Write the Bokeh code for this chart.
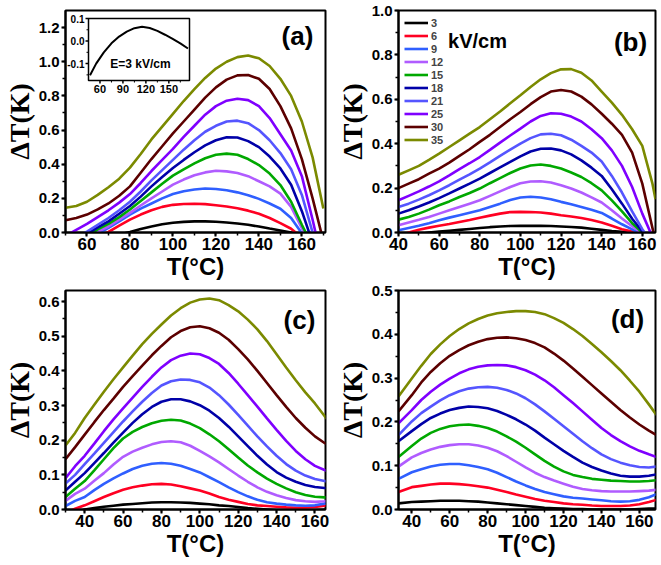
from bokeh.plotting import figure
from bokeh.models import (Range1d, SingleIntervalTicker, PrintfTickFormatter, Label,
                          Legend, LegendItem, GridBox)
from bokeh.core.properties import value
from bokeh.embed import file_html
from bokeh.resources import INLINE

# ---------------- data ----------------
fields = ["3", "6", "9", "12", "15", "18", "21", "25", "30", "35"]
colors = ["#000000", "#FF0022", "#2F5FFF", "#B05CFF", "#00A800",
          "#0000A8", "#5555FF", "#7F00FF", "#5C0000", "#7B8A00"]

# panel (a)
T_a = [50, 55, 60, 65, 70, 75, 80, 85, 90, 95, 100, 105, 110, 115, 120, 125, 130, 135, 140, 145, 150, 155, 160, 165, 170]
a_3 = [-0.17, -0.13, -0.09, -0.055, -0.03, -0.012, 0.003, 0.02, 0.035, 0.048, 0.057, 0.062, 0.065, 0.065, 0.063, 0.059, 0.053, 0.045, 0.035, 0.023, 0.012, 0.0, -0.015, -0.035, -0.06]
a_6 = [-0.12, -0.09, -0.06, -0.03, 0.003, 0.04, 0.075, 0.105, 0.13, 0.15, 0.162, 0.167, 0.168, 0.166, 0.16, 0.152, 0.142, 0.128, 0.11, 0.085, 0.055, 0.022, -0.03, -0.08, -0.12]
a_9 = [-0.11, -0.075, -0.04, -0.008, 0.027, 0.065, 0.105, 0.14, 0.17, 0.2, 0.225, 0.242, 0.252, 0.258, 0.255, 0.247, 0.235, 0.218, 0.197, 0.17, 0.139, 0.085, -0.005, -0.09, -0.17]
a_12 = [-0.1, -0.065, -0.03, 0.004, 0.035, 0.075, 0.115, 0.158, 0.2, 0.24, 0.28, 0.31, 0.335, 0.352, 0.362, 0.358, 0.348, 0.33, 0.3, 0.27, 0.228, 0.15, 0.025, -0.08, -0.2]
a_15 = [-0.09, -0.055, -0.02, 0.018, 0.05, 0.09, 0.135, 0.185, 0.235, 0.285, 0.333, 0.37, 0.405, 0.435, 0.455, 0.462, 0.455, 0.43, 0.395, 0.345, 0.278, 0.18, 0.045, -0.08, -0.2]
a_18 = [-0.08, -0.045, -0.008, 0.03, 0.065, 0.11, 0.155, 0.21, 0.27, 0.325, 0.378, 0.425, 0.47, 0.51, 0.54, 0.558, 0.556, 0.535, 0.5, 0.445, 0.375, 0.28, 0.125, -0.06, -0.2]
a_21 = [-0.06, -0.03, 0.005, 0.045, 0.085, 0.13, 0.18, 0.24, 0.305, 0.365, 0.425, 0.485, 0.54, 0.59, 0.625, 0.65, 0.655, 0.64, 0.6, 0.54, 0.465, 0.37, 0.22, 0.0, -0.2]
a_25 = [-0.02, 0.015, 0.05, 0.09, 0.13, 0.175, 0.225, 0.29, 0.36, 0.425, 0.49, 0.56, 0.625, 0.69, 0.74, 0.772, 0.783, 0.775, 0.74, 0.67, 0.575, 0.48, 0.33, 0.075, -0.2]
a_30 = [0.072, 0.085, 0.105, 0.135, 0.17, 0.215, 0.27, 0.35, 0.43, 0.505, 0.58, 0.65, 0.72, 0.79, 0.85, 0.895, 0.92, 0.922, 0.9, 0.84, 0.74, 0.61, 0.43, 0.2, -0.05]
a_35 = [0.145, 0.155, 0.18, 0.22, 0.265, 0.315, 0.38, 0.46, 0.545, 0.62, 0.695, 0.77, 0.84, 0.905, 0.96, 1.0, 1.027, 1.036, 1.02, 0.975, 0.9, 0.8, 0.65, 0.44, 0.14]

# inset of panel (a): E = 3 kV/cm
T_in = [47, 55, 65, 75, 85, 95, 105, 115, 125, 135, 145, 155, 165, 175]
dT_in = [-0.152, -0.1, -0.05, -0.01, 0.02, 0.042, 0.057, 0.063, 0.058, 0.045, 0.028, 0.01, -0.01, -0.033]
in_xr = (45, 177)
in_yr = (-0.175, 0.1)
in_xticks = [60, 90, 120, 150]
in_xminor = [75, 105, 135, 165]
in_yticks = [-0.1, 0.0, 0.1]
in_yminor = [-0.15, -0.05, 0.05]

# panel (b)
T_b = [40, 45, 50, 55, 60, 65, 70, 75, 80, 85, 90, 95, 100, 105, 110, 115, 120, 125, 130, 135, 140, 145, 150, 155, 160, 165, 166.5]
b_3 = [-0.03, -0.02, -0.008, 0.0, 0.004, 0.008, 0.012, 0.016, 0.02, 0.024, 0.027, 0.029, 0.03, 0.03, 0.03, 0.029, 0.027, 0.025, 0.022, 0.017, 0.012, 0.007, 0.003, -0.002, -0.008, -0.012, -0.015]
b_6 = [-0.02, 0.0, 0.012, 0.022, 0.03, 0.038, 0.047, 0.056, 0.066, 0.076, 0.085, 0.092, 0.093, 0.092, 0.09, 0.085, 0.078, 0.072, 0.065, 0.056, 0.045, 0.03, 0.015, 0.004, -0.008, -0.015, -0.02]
b_9 = [0.01, 0.02, 0.03, 0.042, 0.055, 0.067, 0.078, 0.089, 0.1, 0.115, 0.13, 0.146, 0.158, 0.161, 0.158, 0.15, 0.138, 0.127, 0.115, 0.102, 0.088, 0.063, 0.037, 0.014, -0.01, -0.025, -0.03]
b_12 = [0.033, 0.045, 0.057, 0.07, 0.085, 0.1, 0.115, 0.13, 0.145, 0.165, 0.185, 0.205, 0.222, 0.23, 0.231, 0.225, 0.213, 0.198, 0.18, 0.158, 0.135, 0.1, 0.063, 0.028, -0.005, -0.025, -0.03]
b_15 = [0.058, 0.07, 0.085, 0.103, 0.123, 0.14, 0.16, 0.178, 0.198, 0.222, 0.245, 0.268, 0.288, 0.302, 0.306, 0.3, 0.288, 0.27, 0.25, 0.222, 0.19, 0.145, 0.095, 0.042, 0.0, -0.03, -0.04]
b_18 = [0.085, 0.1, 0.117, 0.135, 0.155, 0.176, 0.198, 0.22, 0.243, 0.268, 0.293, 0.318, 0.343, 0.365, 0.377, 0.378, 0.37, 0.352, 0.325, 0.292, 0.255, 0.195, 0.13, 0.062, 0.005, -0.04, -0.05]
b_21 = [0.115, 0.13, 0.148, 0.168, 0.19, 0.213, 0.238, 0.262, 0.288, 0.316, 0.345, 0.373, 0.4, 0.425, 0.442, 0.445, 0.438, 0.418, 0.39, 0.36, 0.32, 0.255, 0.18, 0.095, 0.015, -0.05, -0.06]
b_25 = [0.145, 0.165, 0.185, 0.207, 0.23, 0.257, 0.285, 0.312, 0.34, 0.372, 0.405, 0.437, 0.468, 0.5, 0.525, 0.537, 0.535, 0.522, 0.5, 0.465, 0.425, 0.37, 0.3, 0.205, 0.085, -0.02, -0.06]
b_30 = [0.2, 0.22, 0.24, 0.265, 0.288, 0.315, 0.345, 0.375, 0.408, 0.44, 0.475, 0.51, 0.543, 0.578, 0.61, 0.635, 0.642, 0.635, 0.612, 0.577, 0.535, 0.49, 0.44, 0.36, 0.22, 0.02, -0.04]
b_35 = [0.26, 0.28, 0.30, 0.327, 0.355, 0.385, 0.415, 0.445, 0.475, 0.51, 0.545, 0.582, 0.618, 0.655, 0.69, 0.718, 0.735, 0.736, 0.72, 0.685, 0.635, 0.585, 0.53, 0.465, 0.39, 0.22, 0.15]

# panel (c)
T_c = [30, 35, 40, 45, 50, 55, 60, 65, 70, 75, 80, 85, 90, 95, 100, 105, 110, 115, 120, 125, 130, 135, 140, 145, 150, 155, 160, 165, 166]
c_3 = [-0.02, -0.01, 0.0, 0.004, 0.008, 0.011, 0.014, 0.016, 0.018, 0.02, 0.021, 0.021, 0.02, 0.019, 0.017, 0.015, 0.012, 0.01, 0.007, 0.004, 0.002, 0.0, -0.002, -0.003, -0.003, -0.003, -0.002, -0.001, -0.001]
c_6 = [-0.01, 0.002, 0.012, 0.024, 0.036, 0.047, 0.057, 0.064, 0.069, 0.073, 0.074, 0.072, 0.067, 0.061, 0.055, 0.046, 0.036, 0.028, 0.022, 0.016, 0.012, 0.01, 0.008, 0.006, 0.005, 0.005, 0.007, 0.011, 0.012]
c_9 = [0.01, 0.025, 0.036, 0.056, 0.074, 0.09, 0.104, 0.117, 0.126, 0.132, 0.134, 0.132, 0.126, 0.117, 0.107, 0.093, 0.079, 0.064, 0.05, 0.038, 0.028, 0.021, 0.017, 0.014, 0.012, 0.011, 0.012, 0.017, 0.018]
c_12 = [0.025, 0.045, 0.06, 0.083, 0.105, 0.13, 0.152, 0.167, 0.178, 0.188, 0.195, 0.197, 0.194, 0.184, 0.169, 0.153, 0.136, 0.117, 0.098, 0.08, 0.064, 0.051, 0.041, 0.033, 0.027, 0.024, 0.022, 0.024, 0.025]
c_15 = [0.036, 0.06, 0.082, 0.113, 0.145, 0.177, 0.205, 0.224, 0.238, 0.249, 0.256, 0.259, 0.257, 0.248, 0.235, 0.217, 0.197, 0.174, 0.15, 0.127, 0.107, 0.089, 0.074, 0.061, 0.05, 0.042, 0.037, 0.035, 0.035]
c_18 = [0.055, 0.08, 0.105, 0.134, 0.163, 0.193, 0.222, 0.25, 0.275, 0.296, 0.311, 0.318, 0.318, 0.312, 0.301, 0.285, 0.264, 0.239, 0.211, 0.183, 0.155, 0.13, 0.108, 0.092, 0.08, 0.071, 0.065, 0.062, 0.062]
c_21 = [0.075, 0.1, 0.131, 0.161, 0.192, 0.223, 0.254, 0.283, 0.311, 0.336, 0.358, 0.37, 0.375, 0.374, 0.367, 0.352, 0.33, 0.303, 0.273, 0.242, 0.211, 0.182, 0.155, 0.131, 0.112, 0.098, 0.088, 0.082, 0.082]
c_25 = [0.09, 0.125, 0.155, 0.19, 0.226, 0.26, 0.292, 0.323, 0.354, 0.383, 0.41, 0.431, 0.444, 0.45, 0.448, 0.437, 0.42, 0.394, 0.363, 0.33, 0.297, 0.263, 0.23, 0.198, 0.169, 0.145, 0.126, 0.114, 0.112]
c_30 = [0.145, 0.18, 0.216, 0.252, 0.287, 0.32, 0.354, 0.385, 0.415, 0.445, 0.472, 0.497, 0.515, 0.526, 0.529, 0.523, 0.51, 0.49, 0.463, 0.433, 0.4, 0.365, 0.33, 0.296, 0.264, 0.236, 0.211, 0.192, 0.189]
c_35 = [0.185, 0.221, 0.264, 0.302, 0.34, 0.376, 0.41, 0.444, 0.477, 0.507, 0.534, 0.56, 0.581, 0.597, 0.606, 0.609, 0.604, 0.59, 0.572, 0.548, 0.52, 0.486, 0.448, 0.41, 0.373, 0.338, 0.306, 0.27, 0.262]

# panel (d)
T_d = [33, 40, 45, 50, 55, 60, 65, 70, 75, 80, 85, 90, 95, 100, 105, 110, 115, 120, 125, 130, 135, 140, 145, 150, 155, 160, 165, 169]
d_3 = [0.014, 0.017, 0.018, 0.019, 0.02, 0.02, 0.02, 0.019, 0.018, 0.016, 0.014, 0.012, 0.01, 0.008, 0.006, 0.004, 0.003, 0.002, 0.001, 0.001, 0.0, 0.0, 0.0, 0.0, 0.0, 0.001, 0.002, 0.002]
d_6 = [0.04, 0.051, 0.054, 0.057, 0.059, 0.059, 0.058, 0.056, 0.053, 0.05, 0.045, 0.04, 0.034, 0.029, 0.024, 0.02, 0.017, 0.014, 0.012, 0.011, 0.009, 0.008, 0.008, 0.008, 0.009, 0.012, 0.017, 0.022]
d_9 = [0.07, 0.085, 0.092, 0.098, 0.102, 0.104, 0.104, 0.101, 0.097, 0.092, 0.084, 0.074, 0.064, 0.055, 0.047, 0.04, 0.035, 0.03, 0.027, 0.025, 0.023, 0.021, 0.019, 0.018, 0.019, 0.022, 0.028, 0.035]
d_12 = [0.098, 0.119, 0.129, 0.137, 0.143, 0.147, 0.149, 0.149, 0.146, 0.141, 0.133, 0.122, 0.109, 0.096, 0.084, 0.074, 0.066, 0.059, 0.052, 0.047, 0.044, 0.042, 0.041, 0.041, 0.041, 0.042, 0.043, 0.045]
d_15 = [0.12, 0.145, 0.162, 0.175, 0.184, 0.19, 0.193, 0.194, 0.191, 0.186, 0.178, 0.167, 0.155, 0.141, 0.126, 0.111, 0.098, 0.087, 0.079, 0.074, 0.07, 0.068, 0.066, 0.065, 0.064, 0.064, 0.065, 0.067]
d_18 = [0.156, 0.179, 0.195, 0.209, 0.219, 0.227, 0.232, 0.235, 0.234, 0.231, 0.225, 0.216, 0.206, 0.194, 0.18, 0.164, 0.149, 0.134, 0.12, 0.107, 0.097, 0.089, 0.082, 0.077, 0.075, 0.075, 0.077, 0.08]
d_21 = [0.17, 0.201, 0.22, 0.235, 0.249, 0.261, 0.27, 0.276, 0.279, 0.28, 0.278, 0.273, 0.265, 0.254, 0.24, 0.224, 0.207, 0.19, 0.173, 0.156, 0.14, 0.126, 0.115, 0.107, 0.101, 0.097, 0.096, 0.098]
d_25 = [0.197, 0.227, 0.25, 0.269, 0.285, 0.299, 0.311, 0.32, 0.326, 0.329, 0.33, 0.329, 0.325, 0.318, 0.308, 0.295, 0.279, 0.261, 0.243, 0.224, 0.205, 0.186, 0.17, 0.156, 0.144, 0.134, 0.126, 0.12]
d_30 = [0.224, 0.261, 0.29, 0.314, 0.334, 0.351, 0.364, 0.375, 0.383, 0.389, 0.392, 0.393, 0.391, 0.387, 0.38, 0.37, 0.356, 0.34, 0.322, 0.303, 0.284, 0.265, 0.246, 0.227, 0.21, 0.194, 0.18, 0.17]
d_35 = [0.258, 0.299, 0.328, 0.355, 0.377, 0.396, 0.412, 0.425, 0.435, 0.443, 0.448, 0.451, 0.453, 0.453, 0.451, 0.446, 0.437, 0.426, 0.412, 0.396, 0.378, 0.359, 0.339, 0.318, 0.294, 0.269, 0.24, 0.216]

series_a = [a_3, a_6, a_9, a_12, a_15, a_18, a_21, a_25, a_30, a_35]
series_b = [b_3, b_6, b_9, b_12, b_15, b_18, b_21, b_25, b_30, b_35]
series_c = [c_3, c_6, c_9, c_12, c_15, c_18, c_21, c_25, c_30, c_35]
series_d = [d_3, d_6, d_9, d_12, d_15, d_18, d_21, d_25, d_30, d_35]

SANS = "Liberation Sans"
SERIF = "Liberation Serif"


def make_panel(width, height, xr, yr, yint, borders, letter, letter_xy):
    left, right, top, bottom = borders
    p = figure(width=width, height=height, x_range=Range1d(*xr), y_range=Range1d(*yr),
               output_backend="svg", toolbar_location=None, tools="",
               min_border_left=left, min_border_right=right,
               min_border_top=top, min_border_bottom=bottom)
    p.grid.visible = False
    p.outline_line_color = "black"
    p.outline_line_width = 2
    p.background_fill_color = "white"
    p.border_fill_color = "white"
    p.xaxis.ticker = SingleIntervalTicker(interval=20, num_minor_ticks=2)
    p.yaxis.ticker = SingleIntervalTicker(interval=yint, num_minor_ticks=2)
    p.yaxis.formatter = PrintfTickFormatter(format="%.1f")
    for ax in (p.xaxis[0], p.yaxis[0]):
        ax.axis_line_color = "black"
        ax.axis_line_width = 2
        ax.major_tick_in = 0
        ax.major_tick_out = 4
        ax.minor_tick_in = 0
        ax.minor_tick_out = 3
        ax.major_tick_line_width = 2
        ax.minor_tick_line_width = 1.5
        ax.major_label_text_font = SANS
        ax.major_label_text_font_style = "bold"
        ax.major_label_text_color = "black"
        ax.axis_label_text_color = "black"
        ax.axis_label_text_font_style = "bold"
    xa, ya = p.xaxis[0], p.yaxis[0]
    xa.major_label_text_font_size = "17px"
    xa.major_label_standoff = 1
    xa.axis_label = "T(°C)"
    xa.axis_label_text_font = SANS
    xa.axis_label_text_font_size = "24px"
    xa.axis_label_standoff = 0
    ya.major_label_text_font_size = "15px"
    ya.major_label_standoff = 2
    ya.axis_label = "ΔT(K)"
    ya.axis_label_text_font = SERIF
    ya.axis_label_text_font_size = "28px"
    ya.axis_label_standoff = 1
    p.add_layout(Label(x=letter_xy[0], y=letter_xy[1], x_units="screen", y_units="screen",
                       text=letter, text_font=SANS, text_font_size="26px",
                       text_font_style="bold", text_align="center",
                       text_baseline="middle", text_color="black"))
    return p


# figure sizes and borders (px): (left, right, top, bottom)
A_W, A_H, A_B = 330, 282, (65, 5, 10, 50)
fa = make_panel(A_W, A_H, (50, 171), (0, 1.3), 0.2, A_B, "(a)", (232, 197))
fb = make_panel(331, 282, (40, 166.5), (0, 1.0), 0.2, (68, 6, 10, 50), "(b)", (232, 191))
fc = make_panel(330, 283, (30, 165.5), (0, 0.632), 0.1, (63, 5, 5, 56), "(c)", (234, 190))
fd = make_panel(331, 283, (33, 168.5), (0, 0.5), 0.1, (67, 6, 8, 56), "(d)", (229, 191))

for p, T, series in ((fa, T_a, series_a), (fb, T_b, series_b),
                     (fc, T_c, series_c), (fd, T_d, series_d)):
    rends = []
    for vals, col in zip(series, colors):
        rends.append(p.line(T, vals, line_color=col, line_width=2.6))
    if p is fb:
        items = [LegendItem(label=f, renderers=[r]) for f, r in zip(fields, rends)]
        leg = Legend(items=items, location="top_left", margin=6, padding=0, spacing=0,
                     glyph_width=24, glyph_height=13, label_height=13, label_standoff=3,
                     label_text_font=SANS, label_text_font_size="11px",
                     label_text_font_style="bold", border_line_alpha=0,
                     background_fill_alpha=0)
        p.add_layout(leg)
        p.add_layout(Label(x=79, y=192, x_units="screen", y_units="screen", text="kV/cm",
                           text_font=SANS, text_font_size="20px", text_font_style="bold",
                           text_align="center", text_baseline="middle", text_color="black"))

# ---------------- inset in panel (a), as a sub-coordinate system ----------------
fx0, fx1 = 50, 171          # panel (a) x range
fy0, fy1 = 0, 1.3           # panel (a) y range
fw = A_W - A_B[0] - A_B[1]  # frame width in px
fh = A_H - A_B[2] - A_B[3]  # frame height in px
box_l, box_r, box_t, box_b = 23, 124, 8, 70   # inset box, px from frame's top-left


def px_x(px):
    return fx0 + px * (fx1 - fx0) / fw


def px_y(py):
    return fy1 - py * (fy1 - fy0) / fh


sub = fa.subplot(x_source=Range1d(*in_xr), y_source=Range1d(*in_yr),
                 x_target=Range1d(px_x(box_l), px_x(box_r)),
                 y_target=Range1d(px_y(box_b), px_y(box_t)))
sub.quad(left=[in_xr[0]], right=[in_xr[1]], bottom=[in_yr[0]], top=[in_yr[1]],
         fill_color="white", line_color="black", line_width=1.5)
sub.line(T_in, dT_in, line_color="black", line_width=2)
ty = (in_yr[1] - in_yr[0]) / (box_b - box_t)   # data per px (inset y)
tx = (in_xr[1] - in_xr[0]) / (box_r - box_l)   # data per px (inset x)
sub.segment(x0=in_xticks, x1=in_xticks, y0=[in_yr[0]] * 4, y1=[in_yr[0] - 3 * ty] * 4,
            line_color="black", line_width=1.5)
sub.segment(x0=in_xminor, x1=in_xminor, y0=[in_yr[0]] * 4, y1=[in_yr[0] - 2 * ty] * 4,
            line_color="black", line_width=1)
sub.segment(x0=[in_xr[0]] * 3, x1=[in_xr[0] - 3 * tx] * 3, y0=in_yticks, y1=in_yticks,
            line_color="black", line_width=1.5)
sub.segment(x0=[in_xr[0]] * 3, x1=[in_xr[0] - 2 * tx] * 3, y0=in_yminor, y1=in_yminor,
            line_color="black", line_width=1)
sub.text(x=in_xticks, y=[in_yr[0]] * 4, text=[str(t) for t in in_xticks],
         y_offset=4, text_align="center", text_baseline="top",
         text_font=value(SANS), text_font_size="11px", text_font_style="bold",
         text_color="black")
sub.text(x=[in_xr[0]] * 3, y=in_yticks, text=["%.1f" % t for t in in_yticks],
         x_offset=-4, text_align="right", text_baseline="middle",
         text_font=value(SANS), text_font_size="10px", text_font_style="bold",
         text_color="black")
fa.add_layout(Label(x=75, y=169, x_units="screen", y_units="screen", text="E=3 kV/cm",
                    text_font=SANS, text_font_size="12px", text_font_style="bold",
                    text_align="center", text_baseline="middle", text_color="black"))

grid = GridBox(children=[(fa, 0, 0), (fb, 0, 1), (fc, 1, 0), (fd, 1, 1)], spacing=0)

open("out.html", "w").write(file_html(grid, INLINE))
